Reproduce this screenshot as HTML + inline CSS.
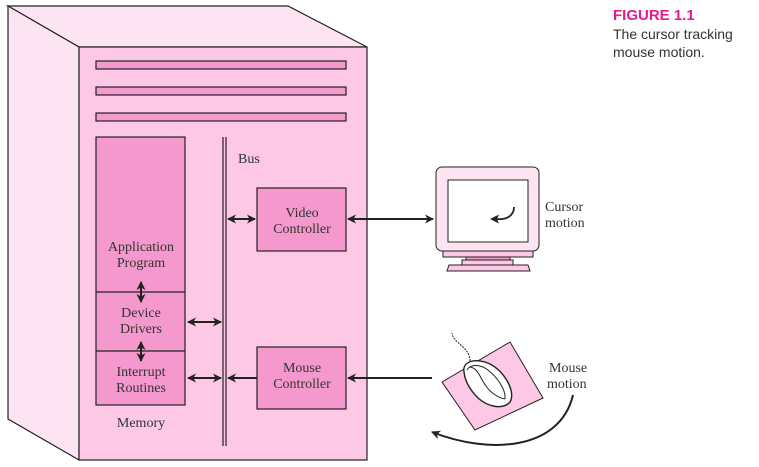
<!DOCTYPE html>
<html><head><meta charset="utf-8"><style>
html,body{margin:0;padding:0;background:#fff;width:759px;height:467px;overflow:hidden}
svg{display:block}
.s{font-family:"Liberation Serif",serif;font-size:14px;fill:#333}
</style></head><body>
<svg width="759" height="467" viewBox="0 0 759 467">
<defs>
<marker id="a" markerWidth="10" markerHeight="10" refX="8" refY="5" orient="auto-start-reverse" markerUnits="userSpaceOnUse">
<path d="M0,0.5 L9,5 L0,9.5 L2.5,5Z" fill="#222"/></marker>
</defs>
<g stroke="#222" stroke-width="1.2">
<polygon points="8,6 288,6 367,47 79,47" fill="#fde4f2"/>
<polygon points="8,6 79,47 79,460 8,419" fill="#fde4f2"/>
<rect x="79" y="47" width="288" height="413" fill="#fcc8e6"/>
<rect x="96" y="61" width="250" height="8" fill="#f598cd"/>
<rect x="96" y="87" width="250" height="8" fill="#f598cd"/>
<rect x="96" y="113" width="250" height="8" fill="#f598cd"/>
<rect x="96" y="137" width="89" height="268" fill="#f598cd"/>
<line x1="96" y1="292" x2="185" y2="292"/>
<line x1="96" y1="351" x2="185" y2="351"/>
<line x1="223" y1="137" x2="223" y2="446"/>
<line x1="226" y1="137" x2="226" y2="446"/>
<rect x="257" y="188" width="89" height="63" fill="#f598cd"/>
<rect x="257" y="347" width="89" height="62" fill="#f598cd"/>
</g>
<g stroke="#222" stroke-width="2" fill="none">
<line x1="141" y1="282" x2="141" y2="302" marker-start="url(#a)" marker-end="url(#a)"/>
<line x1="141" y1="342" x2="141" y2="361" marker-start="url(#a)" marker-end="url(#a)"/>
<line x1="188" y1="322" x2="221" y2="322" marker-start="url(#a)" marker-end="url(#a)"/>
<line x1="188" y1="378" x2="221" y2="378" marker-start="url(#a)" marker-end="url(#a)"/>
<line x1="257" y1="378" x2="228" y2="378" marker-end="url(#a)"/>
<line x1="228" y1="219" x2="255" y2="219" marker-start="url(#a)" marker-end="url(#a)"/>
<line x1="348" y1="219" x2="433" y2="219" marker-start="url(#a)" marker-end="url(#a)"/>
<line x1="432" y1="378" x2="348" y2="378" marker-end="url(#a)"/>
<path d="M573,395 C560,450 490,455 432,432" marker-end="url(#a)"/>
</g>
<text class="s" x="238" y="163">Bus</text>
<text class="s" x="141" y="251" text-anchor="middle">Application</text>
<text class="s" x="141" y="267" text-anchor="middle">Program</text>
<text class="s" x="141" y="317" text-anchor="middle">Device</text>
<text class="s" x="141" y="333" text-anchor="middle">Drivers</text>
<text class="s" x="141" y="376" text-anchor="middle">Interrupt</text>
<text class="s" x="141" y="392" text-anchor="middle">Routines</text>
<text class="s" x="141" y="427" text-anchor="middle">Memory</text>
<text class="s" x="302" y="217" text-anchor="middle">Video</text>
<text class="s" x="302" y="233" text-anchor="middle">Controller</text>
<text class="s" x="302" y="372" text-anchor="middle">Mouse</text>
<text class="s" x="302" y="388" text-anchor="middle">Controller</text>
<text class="s" x="545" y="211">Cursor</text>
<text class="s" x="545" y="227">motion</text>
<text class="s" x="549" y="372">Mouse</text>
<text class="s" x="547" y="388">motion</text>
<g stroke="#222" stroke-width="1">
<rect x="436" y="167" width="103" height="84" rx="6" fill="#fde4f2"/>
<rect x="448" y="180" width="80" height="62" fill="#fff"/>
<rect x="443" y="251" width="90" height="6" fill="#fcc8e6"/>
<rect x="466" y="257" width="44" height="3" fill="#f598cd"/>
<rect x="462" y="260" width="51" height="5" fill="#fcc8e6"/>
<polygon points="449,265 528,265 530,271 447,271" fill="#fcc8e6"/>
<polygon points="442,382 510,342 543,398 475,430" fill="#fcc8e6"/>
<path d="M464,372 C462,360 478,358 490,364 C505,372 516,392 510,402 C503,410 488,407 478,398 C470,390 465,382 464,372Z" fill="#fff" stroke-width="1.4"/>
<path d="M467,370 C470,364 480,364 488,370 C498,378 506,390 505,399" fill="none"/>
<path d="M470,367 C478,368 480,378 486,386 C490,392 498,398 505,399" fill="none"/>
<path d="M470,361 C470,354 466,350 462,346 C456,341 452,337 452,333" fill="none" stroke-dasharray="2,1"/>
</g>
<path d="M514,207 C514,216 506,220 497,219" stroke="#222" stroke-width="1.8" fill="none"/>
<path d="M490,219 L499,214.5 L497,219 L499,223.5Z" fill="#222"/>
<text x="613" y="20" style="font-family:'Liberation Sans',sans-serif;font-weight:bold;font-size:15px;fill:#e8198b">FIGURE 1.1</text>
<text x="613" y="39" style="font-family:'Liberation Sans',sans-serif;font-size:14px;fill:#333">The cursor tracking</text>
<text x="613" y="57" style="font-family:'Liberation Sans',sans-serif;font-size:14px;fill:#333">mouse motion.</text>
</svg>
</body></html>
